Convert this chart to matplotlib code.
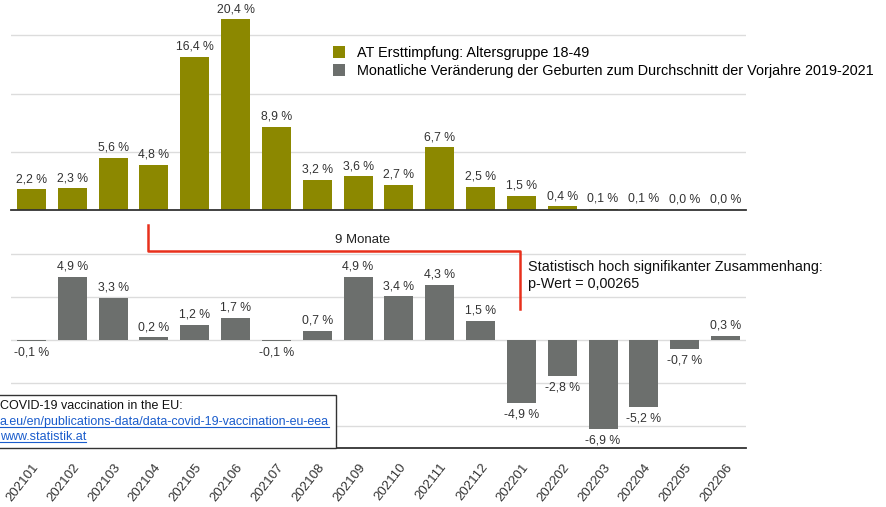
import numpy as np
import matplotlib
matplotlib.use('Agg')
import matplotlib.pyplot as plt
from matplotlib.patches import Patch, Rectangle
from matplotlib.lines import Line2D

plt.rcParams['font.family'] = ['Liberation Sans', 'DejaVu Sans']

# data
months = ['202101', '202102', '202103', '202104', '202105', '202106', '202107', '202108', '202109',
          '202110', '202111', '202112', '202201', '202202', '202203', '202204', '202205', '202206']
impfung = [2.2, 2.3, 5.6, 4.8, 16.4, 20.4, 8.9, 3.2, 3.6, 2.7, 6.7, 2.5, 1.5, 0.4, 0.1, 0.1, 0.0, 0.0]
geburten = [-0.1, 4.9, 3.3, 0.2, 1.2, 1.7, -0.1, 0.7, 4.9, 3.4, 4.3, 1.5, -4.9, -2.8, -6.9, -5.2, -0.7, 0.3]

label_impfung = 'AT Ersttimpfung: Altersgruppe 18-49'
label_geburten = 'Monatliche Veränderung der Geburten zum Durchschnitt der Vorjahre 2019-2021'

olive = '#8c8800'
grau = '#6c6f6d'
rot = '#e8301c'

W, H = 887, 507

def fx(px):
    return px / W

def fy(py):
    return 1 - py / H

def fmt(v):
    return ('%.1f' % v).replace('.', ',') + ' %'

fig = plt.figure(figsize=(W / 100, H / 100), dpi=100)

x = np.arange(len(months))

# obere Grafik - Impfungen
ax1 = fig.add_axes([fx(11), fy(210), fx(746) - fx(11), (210 - 5) / H])
ax1.bar(x, impfung, width=0.71, color=olive, zorder=2)
ax1.set_xlim(-0.5, 17.5)
ax1.set_ylim(0, 205 / 9.35)
ax1.set_yticks([6.2, 12.4, 18.7])
ax1.grid(axis='y', color='#dcdcdc', lw=1, zorder=0)
ax1.tick_params(left=False, labelleft=False, bottom=False, labelbottom=False)
for s in ['top', 'left', 'right']:
    ax1.spines[s].set_visible(False)
ax1.spines['bottom'].set_color('#333333')
ax1.spines['bottom'].set_linewidth(1.3)
for i, v in enumerate(impfung):
    ax1.annotate(fmt(v), (i, v), xytext=(0, 3), textcoords='offset points',
                 ha='center', va='bottom', fontsize=8.8, color='#333333')

# untere Grafik - Geburten
ax2 = fig.add_axes([fx(11), fy(448), fx(746) - fx(11), (448 - 245) / H])
ax2.bar(x, geburten, width=0.71, color=grau, zorder=2)
ax2.set_xlim(-0.5, 17.5)
ax2.set_ylim(-108 / 12.85, 95 / 12.85)
ax2.set_yticks([-6.7, -3.35, 0, 3.35, 6.7])
ax2.grid(axis='y', color='#dcdcdc', lw=1, zorder=0)
ax2.tick_params(left=False, labelleft=False, bottom=False, pad=6)
for s in ['top', 'left', 'right']:
    ax2.spines[s].set_visible(False)
ax2.spines['bottom'].set_color('#333333')
ax2.spines['bottom'].set_linewidth(1.3)
ax2.set_xticks(x)
ax2.set_xticklabels(months, fontsize=9.5, color='#333333')
plt.setp(ax2.get_xticklabels(), rotation=52, ha='right', rotation_mode='anchor')
for i, v in enumerate(geburten):
    if v >= 0:
        ax2.annotate(fmt(v), (i, v), xytext=(0, 3), textcoords='offset points',
                     ha='center', va='bottom', fontsize=8.8, color='#333333')
    else:
        ax2.annotate(fmt(v), (i, v), xytext=(0, -4), textcoords='offset points',
                     ha='center', va='top', fontsize=8.8, color='#333333')

# Legende
handles = [Patch(facecolor=olive), Patch(facecolor=grau)]
fig.legend(handles, [label_impfung, label_geburten], loc='upper left',
           bbox_to_anchor=(fx(333), fy(46)), frameon=False, fontsize=10.35,
           borderaxespad=0, borderpad=0, handlelength=0.85, handleheight=0.85,
           handletextpad=0.8, labelspacing=0.28)

# roter Bügel "9 Monate"
fig.add_artist(Line2D([fx(148), fx(148), fx(520), fx(520)], [fy(225), fy(251), fy(251), fy(309)],
                      color=rot, lw=1.8, transform=fig.transFigure))
fig.text(fx(363), fy(240), '9 Monate', ha='center', va='center', fontsize=9.5, color='#222222')

fig.text(fx(528), fy(267), 'Statistisch hoch signifikanter Zusammenhang:', ha='left', va='center',
         fontsize=10.4, color='#111111')
fig.text(fx(528), fy(284), 'p-Wert = 0,00265', ha='left', va='center', fontsize=10.4, color='#111111')

# Quellen-Kasten
fig.add_artist(Rectangle((fx(-5), fy(448)), fx(341), (448 - 395) / H, transform=fig.transFigure,
                         facecolor='white', edgecolor='#333333', lw=1, zorder=3))
t1 = fig.text(fx(0), fy(406), 'COVID-19 vaccination in the EU:', ha='left', va='center',
              fontsize=9, color='#111111', zorder=4)
links = []
links.append(fig.text(fx(0), fy(422), 'a.eu/en/publications-data/data-covid-19-vaccination-eu-eea',
                      ha='left', va='center', fontsize=9, color='#1a5ccc', zorder=4))
links.append(fig.text(fx(0), fy(437), 'www.statistik.at', ha='left', va='center',
                      fontsize=9, color='#1a5ccc', zorder=4))

# Unterstreichung der Links
fig.canvas.draw()
r = fig.canvas.get_renderer()
for t in links:
    bb = t.get_window_extent(r)
    fig.add_artist(Line2D([bb.x0 / W, bb.x1 / W], [(bb.y0 + 1) / H, (bb.y0 + 1) / H],
                          color='#1a5ccc', lw=0.8, transform=fig.transFigure, zorder=4))

fig.savefig('out.png', dpi=100)
